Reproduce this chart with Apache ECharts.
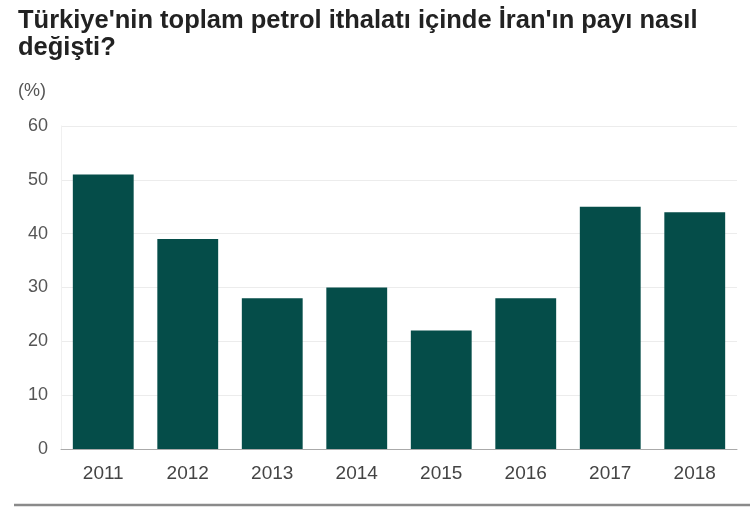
<!DOCTYPE html>
<html><head><meta charset="utf-8">
<script src="https://cdn.jsdelivr.net/npm/echarts@6/dist/echarts.min.js"></script>
<style>html,body{margin:0;padding:0;background:#fff}#c{width:750px;height:508px}</style>
</head><body><div id="c"></div>
<script>
const categories = ['2011','2012','2013','2014','2015','2016','2017','2018'];
const shareValues = [51, 39, 28, 30, 22, 28, 45, 44];
const yTicks = [0, 10, 20, 30, 40, 50, 60];
const titleText = "Türkiye'nin toplam petrol ithalatı içinde İran'ın payı nasıl\ndeğişti?";
const unitText = '(%)';

const chart = echarts.init(document.getElementById('c'));
const font = '"Liberation Sans", Arial, Helvetica, sans-serif';
chart.setOption({
  animation: false,
  textStyle: { fontFamily: font },
  title: [{
    text: titleText, left: 13, top: 2,
    textStyle: { fontFamily: font, fontSize: 25.5, fontWeight: 'bold', color: '#222', lineHeight: 27 }
  }, {
    text: unitText, left: 13, top: 77,
    textStyle: { fontFamily: font, fontSize: 18, fontWeight: 'normal', color: '#555' }
  }],
  grid: { left: 61, right: 13, top: 126, bottom: 59, containLabel: false },
  xAxis: {
    type: 'category', data: categories,
    axisLine: { lineStyle: { color: '#aaa', width: 1 } },
    axisTick: { show: false },
    axisLabel: { color: '#444', fontSize: 19, margin: 15, fontFamily: font }
  },
  yAxis: {
    type: 'value', min: yTicks[0], max: yTicks[yTicks.length - 1], interval: 10,
    axisLine: { show: true, lineStyle: { color: '#f0f0f0' } },
    axisTick: { show: false },
    splitLine: { lineStyle: { color: '#ececec' } },
    axisLabel: { color: '#555', fontSize: 18, margin: 13, fontFamily: font }
  },
  series: [{
    type: 'bar', data: shareValues, barCategoryGap: '28%',
    itemStyle: { color: '#054d49' }
  }],
  graphic: [{
    type: 'line', shape: { x1: 14, y1: 505, x2: 750, y2: 505 },
    style: { stroke: '#8a8a8a', lineWidth: 2.5 }
  }]
});
</script></body></html>
